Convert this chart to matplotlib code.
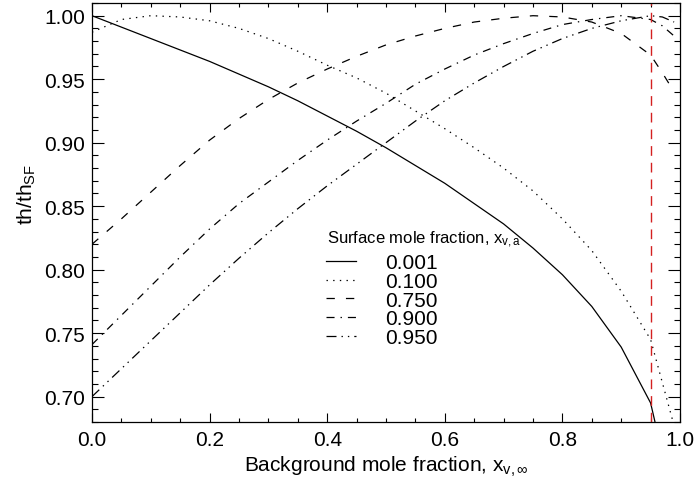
import numpy as np
import matplotlib
matplotlib.use('Agg')
import matplotlib.pyplot as plt
from matplotlib.ticker import MultipleLocator, FormatStrFormatter

# 字体设置（Helvetica 风格）
plt.rcParams['font.family'] = ['Liberation Sans', 'DejaVu Sans']
plt.rcParams['mathtext.fontset'] = 'custom'
plt.rcParams['mathtext.rm'] = 'Liberation Sans'
plt.rcParams['mathtext.it'] = 'Liberation Sans'
plt.rcParams['lines.scale_dashes'] = False

# 背景摩尔分数
x_bg = [0.00, 0.05, 0.10, 0.15, 0.20, 0.25, 0.30, 0.35, 0.40, 0.45, 0.50,
        0.55, 0.60, 0.65, 0.70, 0.75, 0.80, 0.85, 0.90, 0.95, 0.97, 0.99]

# 不同表面摩尔分数下的 th/th_SF
th_001 = [1.000, 0.991, 0.982, 0.973, 0.964, 0.954, 0.944, 0.933, 0.921, 0.909, 0.896,
          0.882, 0.868, 0.852, 0.836, 0.817, 0.796, 0.771, 0.739, 0.695, 0.655, 0.615]
th_100 = [0.987, 0.997, 1.000, 0.999, 0.996, 0.990, 0.982, 0.972, 0.961, 0.951, 0.939,
          0.925, 0.911, 0.896, 0.880, 0.862, 0.840, 0.815, 0.783, 0.745, 0.711, 0.677]
th_750 = [0.820, 0.840, 0.861, 0.882, 0.902, 0.919, 0.934, 0.947, 0.958, 0.968, 0.977,
          0.984, 0.990, 0.995, 0.998, 1.000, 0.999, 0.995, 0.986, 0.969, 0.955, 0.940]
th_900 = [0.741, 0.764, 0.787, 0.810, 0.832, 0.852, 0.869, 0.886, 0.902, 0.917, 0.931,
          0.946, 0.958, 0.969, 0.978, 0.986, 0.993, 0.997, 1.000, 0.997, 0.992, 0.984]
th_950 = [0.700, 0.722, 0.744, 0.766, 0.788, 0.809, 0.829, 0.848, 0.866, 0.883, 0.900,
          0.917, 0.933, 0.947, 0.960, 0.972, 0.982, 0.990, 0.996, 1.000, 0.999, 0.995]

labels = ['0.001', '0.100', '0.750', '0.900', '0.950']
series = [th_001, th_100, th_750, th_900, th_950]
styles = ['-', (0, (1, 3.8)), (0, (6, 8)), (0, (5.8, 4.3, 1, 4.3)),
          (0, (7.2, 3.6, 1, 3.6, 1, 3.6))]
x_mark = 0.95  # 红色竖线位置

# 1、画布
fig = plt.figure(figsize=(6.95, 4.81), dpi=100)
ax = fig.add_axes([92 / 695, 1 - 423 / 481, 588 / 695, 419 / 481])

# 2、绘图
for y, lab, ls in zip(series, labels, styles):
    ax.plot(x_bg, y, color='black', lw=0.9, linestyle=ls, label=lab)

ax.axvline(x_mark, color='#d42020', lw=1.0, linestyle=(0, (7, 5)))

ax.set_xlim(0, 1)
ax.set_ylim(0.68, 1.01)

# 刻度
ax.xaxis.set_major_locator(MultipleLocator(0.2))
ax.xaxis.set_minor_locator(MultipleLocator(0.05))
ax.yaxis.set_major_locator(MultipleLocator(0.05))
ax.yaxis.set_minor_locator(MultipleLocator(0.01))
ax.xaxis.set_major_formatter(FormatStrFormatter('%.1f'))
ax.yaxis.set_major_formatter(FormatStrFormatter('%.2f'))
ax.tick_params(axis='both', which='both', direction='in', top=True, right=True,
               width=0.8, labelsize=15)
ax.tick_params(axis='x', which='major', length=6.3, pad=6)
ax.tick_params(axis='x', which='minor', length=3.1)
ax.tick_params(axis='y', which='major', length=8.4, pad=5)
ax.tick_params(axis='y', which='minor', length=4.3)
for sp in ax.spines.values():
    sp.set_linewidth(0.9)

# 轴名称
fig.text(386 / 695, 1 - 467 / 481, r'Background mole fraction, x$_{\mathrm{v,\infty}}$',
         ha='center', va='center', fontsize=15)
fig.text(27 / 695, 1 - 195 / 481, r'th/th$_{\mathrm{SF}}$', rotation=90,
         ha='center', va='center', fontsize=15)

# 图例
fig.text(327 / 695, 1 - 240 / 481, r'Surface mole fraction, x$_{\mathrm{v,a}}$',
         ha='left', va='center', fontsize=12)
leg = ax.legend(loc='upper left', bbox_to_anchor=(326 / 695, 1 - 254 / 481),
                bbox_transform=fig.transFigure, frameon=False, fontsize=15,
                borderpad=0, borderaxespad=0,
                handlelength=1.44, handletextpad=1.4, labelspacing=-0.01)

plt.savefig('out.png', dpi=100)
